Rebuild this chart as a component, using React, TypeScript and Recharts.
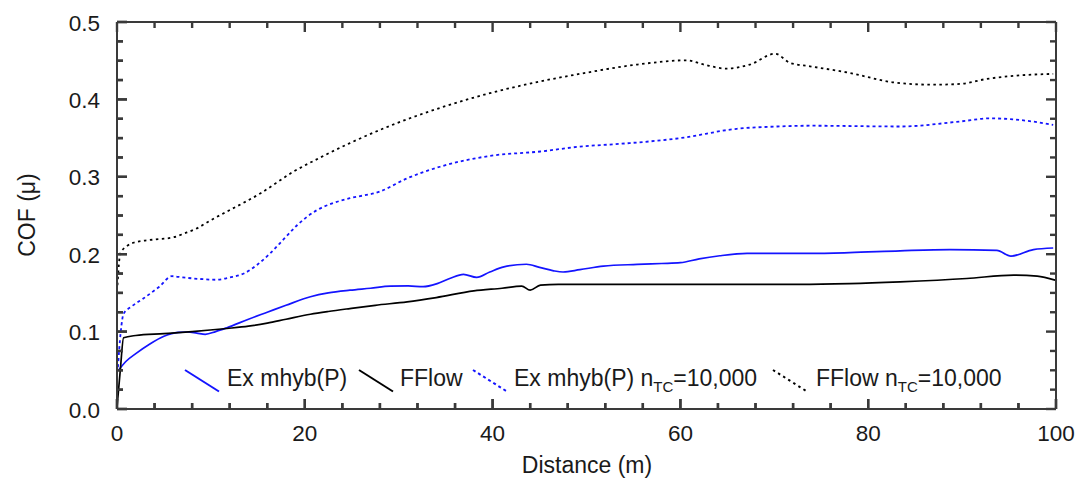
// COF vs sliding distance — four friction models, framed plot with inward ticks.
import { LineChart, Line, XAxis, YAxis, Customized } from "recharts";

const FONT = '"Liberation Sans", Arial, sans-serif';
const FRAME = "#3a3a3a";
const INK = "#1a1a1a";
const BLUE = "#1414ff";
const TICK_W = 2.4;

// Ex mhyb(P) — solid blue
const exDist = [0.15, 1, 2, 3.5, 5, 6.5, 7.5, 8.5, 9.4, 10.5, 11.7, 14, 16, 18, 20.6, 22.5, 24.8, 27, 29.1, 31, 32.6, 34.1, 35.5, 36.9, 38.3, 39.7, 41.2, 43.6, 45, 46.5, 47.5, 49.3, 51.8, 55.4, 58, 60, 62, 64.2, 67.1, 70, 73.8, 78, 83.4, 88.7, 93.7, 95.2, 97.6, 99.7];
const exCof = [0.05, 0.062, 0.0715, 0.084, 0.094, 0.099, 0.0995, 0.098, 0.0965, 0.1, 0.105, 0.116, 0.125, 0.134, 0.145, 0.15, 0.1535, 0.156, 0.1587, 0.159, 0.158, 0.162, 0.169, 0.174, 0.17, 0.177, 0.1837, 0.187, 0.183, 0.1785, 0.177, 0.18, 0.1846, 0.1868, 0.188, 0.189, 0.194, 0.198, 0.201, 0.201, 0.201, 0.202, 0.2044, 0.206, 0.205, 0.1975, 0.206, 0.208];

// FFlow — solid black
const ffDist = [0, 0.35, 0.7, 2, 5, 8, 11.7, 14, 16, 18, 20.6, 22.5, 24.8, 27.5, 30.9, 34, 38, 41, 43.1, 44, 45.1, 47, 49.3, 55, 60, 65, 72.7, 78, 83.4, 90.5, 95.5, 98, 99.9];
const ffCof = [0.002, 0.05, 0.092, 0.095, 0.0974, 0.1, 0.104, 0.107, 0.111, 0.116, 0.1224, 0.126, 0.1298, 0.134, 0.1384, 0.144, 0.1526, 0.156, 0.1587, 0.1535, 0.16, 0.161, 0.161, 0.161, 0.161, 0.161, 0.161, 0.162, 0.1643, 0.1686, 0.173, 0.1716, 0.1665];

// Ex mhyb(P) nTC=10,000 — dotted blue
const exTcDist = [0.1, 0.4, 0.7, 1.5, 2.8, 4.5, 5.85, 7, 8.2, 10.6, 12, 13.5, 15, 16.3, 17.8, 19.2, 21.3, 23, 24.8, 28, 30.9, 34.4, 39.7, 45.1, 49.3, 53.6, 60, 66, 70.3, 73.8, 83.4, 89.8, 93, 96.9, 99.7];
const exTcCof = [0.054, 0.1, 0.123, 0.132, 0.1427, 0.158, 0.1716, 0.17, 0.1686, 0.167, 0.17, 0.175, 0.187, 0.201, 0.22, 0.2377, 0.257, 0.266, 0.2723, 0.281, 0.298, 0.313, 0.327, 0.3327, 0.339, 0.3426, 0.35, 0.362, 0.365, 0.366, 0.365, 0.3715, 0.3755, 0.3724, 0.367];

// FFlow nTC=10,000 — dotted black
const ffTcDist = [0.05, 0.35, 1, 2.1, 4, 6, 7.2, 8.5, 10, 11.7, 15.3, 18.8, 21.5, 24.8, 29.1, 34.4, 39.7, 45.1, 49.3, 55.4, 60.7, 62.5, 64.9, 67.4, 70.1, 71.7, 73.8, 78.1, 82.7, 86.9, 89.8, 92.6, 95.8, 99.7];
const ffTcCof = [0.16, 0.201, 0.21, 0.216, 0.219, 0.2218, 0.227, 0.2334, 0.244, 0.255, 0.2788, 0.3067, 0.324, 0.3435, 0.366, 0.389, 0.408, 0.4233, 0.433, 0.445, 0.4505, 0.445, 0.4398, 0.445, 0.459, 0.447, 0.4428, 0.434, 0.422, 0.419, 0.42, 0.4264, 0.4307, 0.433];

// axis ticks: minor every 4 m / 0.025, labels on the majors
const xTicks = [0, 4, 8, 12, 16, 20, 24, 28, 32, 36, 40, 44, 48, 52, 56, 60, 64, 68, 72, 76, 80, 84, 88, 92, 96, 100];
const xLabels = [0, 20, 40, 60, 80, 100];
const yTicks = [0, 0.025, 0.05, 0.075, 0.1, 0.125, 0.15, 0.175, 0.2, 0.225, 0.25, 0.275, 0.3, 0.325, 0.35, 0.375, 0.4, 0.425, 0.45, 0.475, 0.5];
const yLabels = ["0.0", "0.1", "0.2", "0.3", "0.4", "0.5"];

const zip = (d: number[], v: number[]) => d.map((x, i) => ({ d: x, v: v[i] }));

const series = [
  { key: "ex", name: "Ex mhyb(P)", sub: "", data: zip(exDist, exCof), color: BLUE, dash: undefined as string | undefined },
  { key: "ff", name: "FFlow", sub: "", data: zip(ffDist, ffCof), color: "#000000", dash: undefined as string | undefined },
  { key: "exTc", name: "Ex mhyb(P) n", sub: "TC", data: zip(exTcDist, exTcCof), color: BLUE, dash: "3 3" },
  { key: "ffTc", name: "FFlow n", sub: "TC", data: zip(ffTcDist, ffTcCof), color: "#000000", dash: "2.5 3.5" },
];

// legend sample line start x, text start x
const legendPos = [
  [185, 227],
  [359, 400],
  [473, 514],
  [773, 816],
];

const W = 1077;
const H = 481;
const MARGIN = { top: 21, right: 20, bottom: 71, left: 116 };
// axes are 1px thick, so the plot box sits 1px inside the margins
const plot = {
  left: MARGIN.left + 1,
  right: W - MARGIN.right - 1,
  top: MARGIN.top + 1,
  bottom: H - MARGIN.bottom - 1,
};
const sx = (d: number) => plot.left + (d / 100) * (plot.right - plot.left);
const sy = (v: number) => plot.bottom - (v / 0.5) * (plot.bottom - plot.top);

const isYMajor = (v: number) => Math.abs(v * 10 - Math.round(v * 10)) < 1e-6;

// axis ticks carry the labels plus the inward tick marks on bottom / left
function BottomTick(props: any) {
  const { x, y, payload } = props;
  const v = payload.value;
  const major = xLabels.includes(v);
  return (
    <g>
      <path d={`M${x},${y}V${y - (major ? 10 : 6)}`} stroke={FRAME} strokeWidth={TICK_W} fill="none" />
      {major && (
        <text x={x} y={y + 31.5} textAnchor="middle" fontSize={22.5} fontFamily={FONT} fill={INK}>
          {v}
        </text>
      )}
    </g>
  );
}

function LeftTick(props: any) {
  const { x, y, payload } = props;
  const v = payload.value;
  const major = isYMajor(v);
  return (
    <g>
      <path d={`M${x},${y}H${x + (major ? 10 : 6)}`} stroke={FRAME} strokeWidth={TICK_W} fill="none" />
      {major && (
        <text x={x - 17} y={y + 8.5} textAnchor="end" fontSize={22.5} fontFamily={FONT} fill={INK}>
          {yLabels[Math.round(v * 10)]}
        </text>
      )}
    </g>
  );
}

// mirrored ticks on all four sides of the frame
function FrameTicks() {
  return (
    <g stroke={FRAME} strokeWidth={TICK_W} fill="none">
      {xTicks.map((d) => {
        const len = xLabels.includes(d) ? 10 : 6;
        const x = sx(d);
        return (
          <g key={`x${d}`}>
            <path d={`M${x},${plot.bottom}V${plot.bottom - len}`} />
            <path d={`M${x},${plot.top}V${plot.top + len}`} />
          </g>
        );
      })}
      {yTicks.map((v) => {
        const len = isYMajor(v) ? 10 : 6;
        const y = sy(v);
        return (
          <g key={`y${v}`}>
            <path d={`M${plot.left},${y}H${plot.left + len}`} />
            <path d={`M${plot.right},${y}H${plot.right - len}`} />
          </g>
        );
      })}
    </g>
  );
}

function Overlay() {
  return (
    <g>
      <FrameTicks />
      <g fontFamily={FONT} fill={INK}>
        <text x={587} y={473} textAnchor="middle" fontSize={23}>
          Distance (m)
        </text>
        <text x={35} y={215} textAnchor="middle" fontSize={23} transform="rotate(-90 35 215)">
          COF (μ)
        </text>
        {series.map((s, i) => {
          const [lx, tx] = legendPos[i];
          return (
            <g key={s.key}>
              <line x1={lx} y1={370} x2={lx + 34} y2={391.5} stroke={s.color} strokeWidth={2} strokeDasharray={s.dash} />
              <text x={tx} y={386} fontSize={23}>
                {s.name}
                {s.sub && (
                  <>
                    <tspan fontSize={15} dy={6}>{s.sub}</tspan>
                    <tspan dy={-6}>=10,000</tspan>
                  </>
                )}
              </text>
            </g>
          );
        })}
      </g>
    </g>
  );
}

const axisLine = { stroke: FRAME, strokeWidth: 2 };

export default function App() {
  return (
    <div style={{ position: "absolute", left: 0, top: 0, background: "#fff" }}>
      <LineChart width={W} height={H} margin={MARGIN}>
        <XAxis xAxisId="bottom" dataKey="d" type="number" domain={[0, 100]} ticks={xTicks} interval={0} height={1} tickSize={0} tickMargin={0} tick={BottomTick} axisLine={axisLine} />
        <XAxis xAxisId="top" orientation="top" type="number" domain={[0, 100]} ticks={xTicks} interval={0} height={1} tickSize={0} tickMargin={0} tick={false} axisLine={axisLine} />
        <YAxis yAxisId="left" type="number" domain={[0, 0.5]} ticks={yTicks} interval={0} width={1} tickSize={0} tickMargin={0} tick={LeftTick} axisLine={axisLine} />
        <YAxis yAxisId="right" orientation="right" type="number" domain={[0, 0.5]} ticks={yTicks} interval={0} width={1} tickSize={0} tickMargin={0} tick={false} axisLine={axisLine} />
        {series.map((s) => (
          <Line
            key={s.key}
            xAxisId="bottom"
            yAxisId="left"
            data={s.data}
            dataKey="v"
            type="monotone"
            stroke={s.color}
            strokeWidth={s.dash ? 1.8 : 1.7}
            strokeDasharray={s.dash}
            dot={false}
            activeDot={false}
            isAnimationActive={false}
          />
        ))}
        <Customized component={<Overlay />} />
      </LineChart>
    </div>
  );
}
